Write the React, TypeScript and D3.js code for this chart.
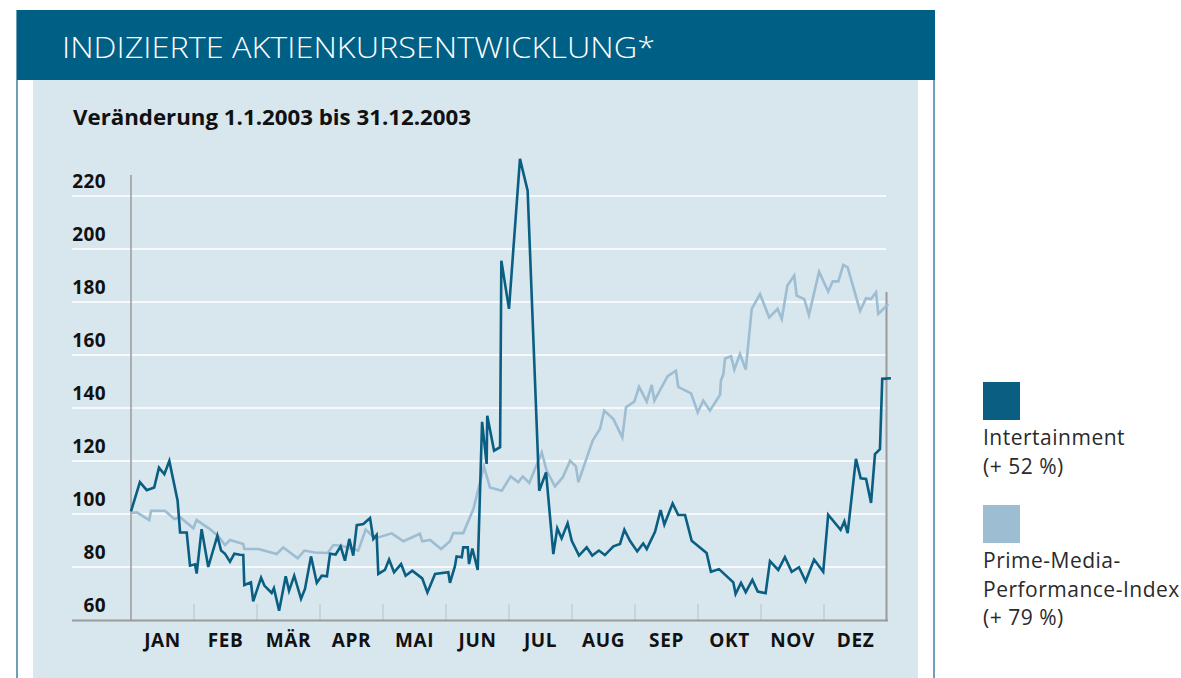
import React from 'react';
import * as d3 from 'd3';

// Indizierte Aktienkursentwicklung 2003 – Intertainment vs. Prime-Media-Performance-Index

const months = ['JAN', 'FEB', 'MÄR', 'APR', 'MAI', 'JUN', 'JUL', 'AUG', 'SEP', 'OKT', 'NOV', 'DEZ'];
const yTicks = [60, 80, 100, 120, 140, 160, 180, 200, 220];

// day of year / index value
const interDays = [0, 4.3, 7.6, 11.2, 13.5, 16.1, 18.5, 22.5, 23.7, 26.9, 28.5, 30.9, 31.7, 34.1, 37.3, 41.7, 43.5, 45.4, 47.8, 49.9, 52.6, 54.2, 54.7, 57.9, 59, 62.8, 64.4, 67.9, 69, 71.5, 74.7, 76.3, 78.8, 82.1, 84, 86.9, 89.7, 92.1, 94.6, 96.1, 98.8, 101.2, 103.3, 105.4, 107.3, 109, 112.2, 115.4, 117, 118.6, 119.4, 122.6, 124.6, 127, 130.4, 132.6, 135.8, 140.6, 143.1, 146.8, 153.2, 154, 156.4, 157.2, 159.7, 160.4, 162.6, 163.2, 164.8, 167.4, 169.5, 171.7, 172, 175.3, 178.2, 178.8, 182.5, 187.8, 191.5, 197.1, 200.4, 203.9, 205.8, 207.9, 210.8, 212.8, 216.3, 220, 222.7, 225.9, 228.8, 232.9, 236.1, 238.2, 240.9, 244.4, 247.3, 249, 253, 255.7, 257.5, 261.5, 264.2, 267.5, 270.7, 277.9, 280, 283.9, 290.8, 291.9, 294.5, 296.8, 300, 302.6, 306.4, 308.5, 312.5, 315.7, 319, 322.5, 325.7, 329.8, 334.2, 336.6, 342.6, 344.4, 346, 350, 352.3, 354.9, 357.3, 359.2, 361.6, 362.7, 366.9];
const interValues = [101, 112, 109, 110, 117.5, 115, 120, 105, 93, 93, 80.5, 81, 77.5, 94.3, 80, 91.8, 86.2, 85, 82, 85, 84.6, 84.5, 73.2, 74.2, 67, 76, 73, 70.2, 72, 63.5, 76.5, 71, 76.7, 68, 71.7, 84, 74, 76.7, 76.5, 85, 84.7, 87.8, 82.4, 90.6, 84.3, 95.8, 96.2, 98.5, 90.6, 92.1, 77.4, 78.9, 82.8, 78, 81.1, 76.7, 78.6, 75.7, 70.4, 77.4, 78, 74, 80.3, 84, 83.7, 87.4, 87.4, 81.1, 87, 78.9, 134.8, 118.9, 137.1, 123.9, 125.2, 195.6, 177.4, 234, 222, 108.8, 115.7, 84.9, 94.6, 90.8, 96.5, 89.9, 84.3, 87.4, 84.3, 86.2, 84.5, 87.8, 88.7, 94.1, 89.9, 85.9, 88.9, 86.8, 93.3, 101.5, 96, 104, 99.6, 99.6, 89.9, 85.3, 78.2, 79.2, 74.2, 69.8, 74, 70.5, 75.1, 70.7, 70.1, 82.2, 78.9, 83.7, 78.2, 79.9, 74.6, 82.8, 78.2, 99.7, 94, 97.2, 92.8, 120.8, 113.5, 113.2, 104.2, 122.6, 124.5, 151, 151.2];

const primeDays = [0, 2.8, 8.8, 9.7, 16.4, 20.9, 23.7, 30.1, 31.7, 38.1, 42.1, 45.4, 47.8, 54.2, 54.7, 61.5, 70.3, 73.5, 80.5, 83.7, 88.8, 95, 97.7, 101.7, 109.7, 113.3, 117.8, 125.9, 131.5, 139.5, 140.6, 144.4, 149.7, 154, 155.6, 160.4, 165.3, 167.7, 170.4, 173.3, 179, 183.3, 187, 189.1, 192.3, 198.3, 200.7, 204.7, 208.4, 212, 214.8, 216, 222.9, 226.4, 228.5, 232.9, 237.2, 239, 243, 245.3, 249, 251.4, 252.7, 259.1, 263.1, 264.2, 270.4, 273.6, 276.3, 279.5, 284.4, 284.8, 286, 286.8, 289.7, 291.3, 294, 296.8, 299.7, 303.7, 308.1, 312.2, 314.2, 316.9, 320.2, 321.4, 325.1, 327.3, 332.2, 336.6, 338.8, 341.5, 343.9, 346, 352, 354.9, 357.3, 359.7, 360.8, 365.6];
const primeValues = [100.4, 100.6, 97.7, 101.2, 101.2, 98.1, 98.8, 94.6, 97.7, 94.3, 91.6, 88.3, 90.2, 88.7, 86.8, 86.8, 84.9, 87.4, 83.3, 86.2, 85.5, 85.3, 88.3, 88, 86.2, 94.1, 90.8, 92.7, 89.7, 92.5, 89.7, 90.2, 86.8, 89.7, 92.8, 92.8, 101.9, 109.4, 118, 110, 108.8, 114.2, 112, 114.2, 111.7, 123.3, 116.3, 110.4, 113.8, 120.1, 118, 112, 127.7, 132.1, 139, 135.8, 128.9, 140.3, 142.4, 148, 142.4, 148.7, 142.8, 152, 154.1, 148, 145.5, 138.4, 142.8, 139, 145, 150.3, 152.8, 158.7, 159.5, 154.5, 160.4, 154.5, 177.4, 183, 174.2, 177.4, 173.6, 186.2, 190, 182.4, 181.1, 175.1, 191.4, 183.9, 187.8, 187.8, 194, 193.1, 176.7, 181.4, 181.1, 183.7, 175.5, 179.2];

const series = [
    {name: ['Intertainment', '(+ 52 %)'], days: interDays, values: interValues, color: '#0a5e82'},
    {name: ['Prime-Media-', 'Performance-Index', '(+ 79 %)'], days: primeDays, values: primeValues, color: '#9cbdd2'}
];

const W = 1181;
const H = 678;
const font = '"Open Sans", "DejaVu Sans", sans-serif';

export default function App() {
    const x = d3.scaleLinear().domain([0, 365]).range([131, 887]);
    const y = d3.scaleLinear().domain([60, 220]).range([620, 196]);
    const monthW = 365 / 12;

    const line = d3.line<[number, number]>()
        .x((d) => x(d[0]))
        .y((d) => y(d[1]));

    const pts = (s: typeof series[number]) => s.days.map((d, i) => [d, s.values[i]] as [number, number]);

    return (
        <svg width={W} height={H} style={{position: 'absolute', left: 0, top: 0}} fontFamily={font}>
            <rect x={0} y={0} width={W} height={H} fill="#ffffff"/>
            {/* frame */}
            <line x1={17} x2={17} y1={10} y2={H} stroke="#3c7fa2" strokeWidth={1.5}/>
            <line x1={934} x2={934} y1={10} y2={H} stroke="#3c7fa2" strokeWidth={1.5}/>
            <rect x={33} y={80} width={885} height={H - 80} fill="#d8e6ee"/>
            <rect x={17} y={10} width={918} height={70} fill="#005f85"/>
            <text x={62} y={58} fill="#ffffff" fontSize={29} fontWeight={300}
                  textLength={593} lengthAdjust="spacingAndGlyphs">INDIZIERTE AKTIENKURSENTWICKLUNG*</text>
            <text x={73} y={125} fill="#111" fontSize={21} fontWeight={700}
                  textLength={398} lengthAdjust="spacingAndGlyphs">Veränderung 1.1.2003 bis 31.12.2003</text>

            {/* grid */}
            {yTicks.filter((t) => t > 60).map((t) => (
                <line key={t} x1={72} x2={886} y1={y(t)} y2={y(t)} stroke="#ffffff" strokeWidth={1.5}/>
            ))}
            {yTicks.map((t) => (
                <text key={t} x={106} y={y(t) - 8} textAnchor="end" fontSize={19} fontWeight={700}
                      letterSpacing={0.4} fill="#111">{t}</text>
            ))}

            {/* month ticks */}
            {months.slice(1).map((m, i) => (
                <line key={m} x1={x((i + 1) * monthW)} x2={x((i + 1) * monthW)} y1={604} y2={620} stroke="#c4ccd2" strokeWidth={1.5}/>
            ))}
            {months.map((m, i) => (
                <text key={m} x={x((i + 0.5) * monthW)} y={647} textAnchor="middle" fontSize={19} fontWeight={700}
                      letterSpacing={0.6} fill="#111">{m}</text>
            ))}

            {/* axes */}
            <line x1={72} x2={888} y1={620.5} y2={620.5} stroke="#9a9a9a" strokeWidth={2}/>
            <line x1={131} x2={131} y1={175} y2={620} stroke="#9a9a9a" strokeWidth={1.5}/>
            <line x1={886.5} x2={886.5} y1={292} y2={620} stroke="#9a9a9a" strokeWidth={2}/>

            {/* lines */}
            {[series[1], series[0]].map((s) => (
                <path key={s.color} d={line(pts(s)) || ''} fill="none" stroke={s.color} strokeWidth={2.6} strokeLinejoin="miter"/>
            ))}

            {/* legend */}
            {series.map((s, i) => {
                const top = i === 0 ? 382 : 505;
                return (
                    <g key={s.color}>
                        <rect x={983} y={top} width={37} height={38} fill={s.color}/>
                        {s.name.map((n, j) => (
                            <text key={n} x={983} y={top + 63 + j * 28.5} fontSize={21} letterSpacing={0.5} fill="#2a2a2a">{n}</text>
                        ))}
                    </g>
                );
            })}
        </svg>
    );
}
